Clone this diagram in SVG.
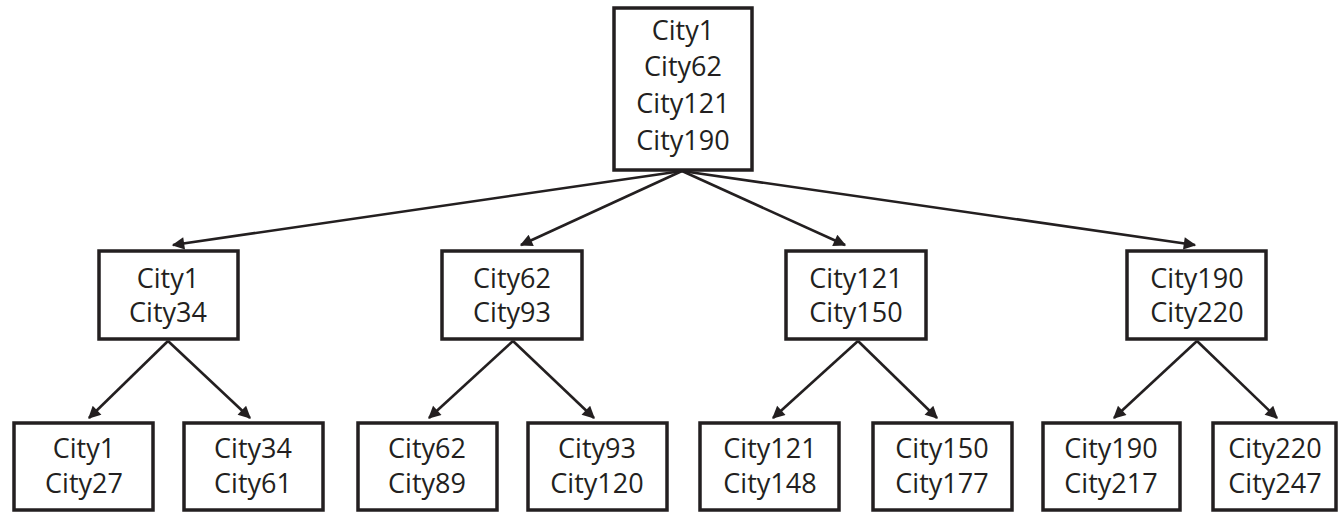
<svg xmlns="http://www.w3.org/2000/svg" width="1339" height="513" viewBox="0 0 1339 513">
<style>
.box{fill:#fff;stroke:#231f20;stroke-width:3.5}
.t{font-family:"Open Sans","Noto Sans",sans-serif;font-size:27px;fill:#231f20;text-anchor:middle}
.c{stroke:#231f20;stroke-width:2.6;fill:none;marker-end:url(#ah)}
</style>
<defs>
<marker id="ah" viewBox="0 0 10 10" refX="9" refY="5" markerWidth="5.6" markerHeight="4.8" orient="auto" markerUnits="strokeWidth">
<path d="M0,0 L10,5 L0,10 z" fill="#231f20"/>
</marker>
</defs>
<rect width="1339" height="513" fill="#fff"/>
<g id="connectors">
<line class="c" x1="682" y1="171" x2="173" y2="245"/>
<line class="c" x1="682" y1="171" x2="521" y2="245"/>
<line class="c" x1="682" y1="171" x2="845" y2="245"/>
<line class="c" x1="682" y1="171" x2="1195" y2="245"/>
<line class="c" x1="168" y1="341" x2="89" y2="418"/>
<line class="c" x1="168" y1="341" x2="250" y2="418"/>
<line class="c" x1="513" y1="341" x2="429" y2="418"/>
<line class="c" x1="513" y1="341" x2="594" y2="418"/>
<line class="c" x1="858" y1="341" x2="773" y2="418"/>
<line class="c" x1="858" y1="341" x2="937" y2="418"/>
<line class="c" x1="1197" y1="341" x2="1114" y2="418"/>
<line class="c" x1="1197" y1="341" x2="1277" y2="418"/>
</g>
<g id="root">
<rect class="box" x="614" y="8" width="138" height="162"/>
<text class="t" x="683" y="40">City1</text>
<text class="t" x="683" y="76">City62</text>
<text class="t" x="683" y="113">City121</text>
<text class="t" x="683" y="150">City190</text>
</g>
<g id="m1">
<rect class="box" x="99" y="251" width="139" height="88"/>
<text class="t" x="168" y="288">City1</text>
<text class="t" x="168" y="322">City34</text>
</g>
<g id="m2">
<rect class="box" x="442" y="251" width="140" height="88"/>
<text class="t" x="512" y="288">City62</text>
<text class="t" x="512" y="322">City93</text>
</g>
<g id="m3">
<rect class="box" x="786" y="251" width="140" height="88"/>
<text class="t" x="856" y="288">City121</text>
<text class="t" x="856" y="322">City150</text>
</g>
<g id="m4">
<rect class="box" x="1127" y="251" width="139" height="88"/>
<text class="t" x="1197" y="288">City190</text>
<text class="t" x="1197" y="322">City220</text>
</g>
<g id="b1">
<rect class="box" x="14" y="423" width="139" height="87"/>
<text class="t" x="84" y="458">City1</text>
<text class="t" x="84" y="493">City27</text>
</g>
<g id="b2">
<rect class="box" x="184" y="423" width="139" height="87"/>
<text class="t" x="253" y="458">City34</text>
<text class="t" x="253" y="493">City61</text>
</g>
<g id="b3">
<rect class="box" x="358" y="423" width="139" height="87"/>
<text class="t" x="427" y="458">City62</text>
<text class="t" x="427" y="493">City89</text>
</g>
<g id="b4">
<rect class="box" x="528" y="423" width="139" height="87"/>
<text class="t" x="597" y="458">City93</text>
<text class="t" x="597" y="493">City120</text>
</g>
<g id="b5">
<rect class="box" x="700" y="423" width="139" height="87"/>
<text class="t" x="770" y="458">City121</text>
<text class="t" x="770" y="493">City148</text>
</g>
<g id="b6">
<rect class="box" x="873" y="423" width="139" height="87"/>
<text class="t" x="942" y="458">City150</text>
<text class="t" x="942" y="493">City177</text>
</g>
<g id="b7">
<rect class="box" x="1043" y="423" width="137" height="87"/>
<text class="t" x="1111" y="458">City190</text>
<text class="t" x="1111" y="493">City217</text>
</g>
<g id="b8">
<rect class="box" x="1213" y="423" width="123" height="87"/>
<text class="t" x="1275" y="458">City220</text>
<text class="t" x="1275" y="493">City247</text>
</g>
</svg>
